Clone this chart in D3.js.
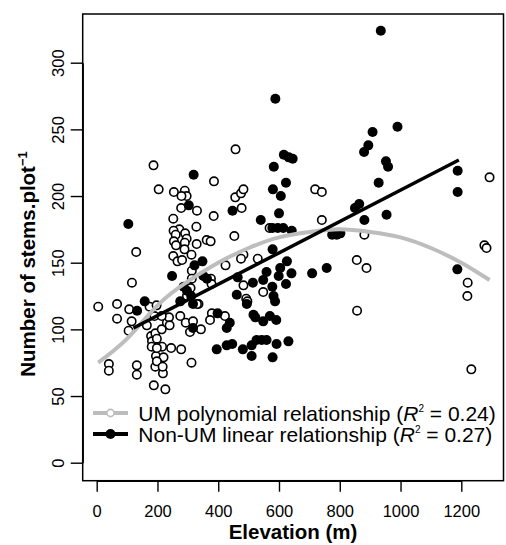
<!DOCTYPE html>
<html>
<head>
<meta charset="utf-8">
<script src="https://cdnjs.cloudflare.com/ajax/libs/d3/7.8.5/d3.min.js"></script>
<style>
body { margin: 0; background: #fff; }
svg { display: block; font-family: "Liberation Sans", Arial, Helvetica, sans-serif; }
.tick line, .domain { stroke: #000; stroke-width: 1.4; }
.tick text { font-size: 16.5px; fill: #000; }
</style>
</head>
<body>
<div class="mainContainer"></div>
<script>
// elevation (m), number of stems per plot
var umPoints = [
	[5,117],[67,119],[67,108],[40,74],[40,69],[132,73],[132,66],[116,135],[130,158],[187,223],
	[204,205],[107,115],[115,106],[105,99],[165,103],[174,117],[197,118],[190,110],[179,95],[182,91],
	[181,87],[193,97],[198,93],[195,80],[193,72],[215,87],[220,79],[188,58],[226,55],[218,67],
	[214,100],[231,105],[238,109],[214,110],[198,76],[198,86],[217,72],[245,86],[278,85],[240,103],
	[275,110],[293,105],[307,98],[312,75],[317,106],[343,100],[335,119],
	[254,203],[290,204],[296,200],[279,200],[278,191],[330,189],[252,183],[272,175],[328,177],
	[253,174],[260,171],[291,172],[296,168],[254,166],[261,163],[290,165],[329,164],[289,160],
	[252,155],[266,151],[281,152],[312,156],[362,167],[375,166],[313,144],[313,138],[309,131],
	[297,125],[330,119],[386,211],[385,185],[376,138],[378,134],[379,112],[373,107],[422,110],
	[424,148],[456,199],[475,202],[483,205],[457,235],[477,191],[453,170],[483,156],[475,153],
	[530,153],[483,133],[492,123],[496,121],[548,128],[569,176],[719,205],[741,203],[741,182],
	[856,152],[888,146],[881,171],[857,114],[1293,214],[1276,163],[1283,161],[1221,135],[1220,125],
	[1233,70]
];
var nonUmPoints = [
	[935,324],[588,273],[990,252],[908,248],[894,238],[880,233],[319,216],[583,222],[616,231],[632,229],
	[645,228],[952,226],[959,222],[1188,219],[623,210],[928,210],[580,205],[606,200],[1188,203],[303,193],
	[864,194],[850,191],[447,189],[600,187],[954,186],[540,182],[881,182],[104,179],[578,176],[596,176],
	[614,176],[642,174],[775,171],[790,171],[802,172],[579,160],[348,151],[626,151],[322,148],[604,146],
	[757,146],[1187,145],[559,143],[709,142],[641,142],[599,140],[248,140],[351,140],[363,138],[464,139],
	[548,137],[623,134],[514,135],[286,132],[297,129],[578,132],[461,126],[582,125],[311,125],[587,121],
	[494,119],[158,121],[275,121],[317,119],[133,114],[398,112],[516,111],[522,109],[570,110],[591,107],
	[548,106],[438,105],[428,101],[317,101],[395,85],[428,88],[446,89],[481,85],[510,88],[526,92],
	[543,92],[559,92],[592,89],[631,91],[510,80],[579,79]
];
// fitted relationships, points
var umCurve = [[5,75],[100,93],[200,118],[300,136],[400,150],[500,161],[600,169],[700,173],[800,175],
	[900,173],[1000,169],[1100,161],[1200,150],[1293,137]];
var nonUmLine = [[121,101],[1192,227]];

var xTicks = [0,200,400,600,800,1000,1200];
var yTicks = [0,50,100,150,200,250,300];
var legendNames = ['UM polynomial relationship', 'Non-UM linear relationship'];
var legendR2 = ['0.24', '0.27'];

var svg = d3.select('.mainContainer').append('svg').attr('width', 506).attr('height', 545);

var box = {left: 82.7, right: 503.5, top: 14, bottom: 480.7};
var x = d3.scaleLinear().domain([0, 1200]).range([96.7, 461.3]);
var y = d3.scaleLinear().domain([0, 300]).range([462.7, 62.7]);

// axes
var xAxis = svg.append('g').attr('transform', 'translate(0,' + box.bottom + ')')
	.call(d3.axisBottom(x).tickValues(xTicks).tickFormat(d3.format('d'))
		.tickSize(11).tickSizeOuter(0).tickPadding(13.6));

var yAxis = svg.append('g').attr('transform', 'translate(' + box.left + ',0)')
	.call(d3.axisLeft(y).tickValues(yTicks).tickFormat(d3.format('d')).tickSize(12).tickSizeOuter(0));
yAxis.selectAll('text').attr('x', 0).attr('dy', 0).attr('text-anchor', 'middle')
	.attr('transform', 'translate(-18.7,0) rotate(-90)');

// box
svg.append('rect').attr('x', box.left).attr('y', box.top)
	.attr('width', box.right - box.left).attr('height', box.bottom - box.top)
	.style('fill', 'none').style('stroke', '#000').style('stroke-width', 1.5);

// points
svg.append('g').selectAll('circle').data(umPoints).enter().append('circle')
	.attr('cx', function(d) { return x(d[0]); }).attr('cy', function(d) { return y(d[1]); })
	.attr('r', 4.2).style('fill', '#fff').style('stroke', '#000').style('stroke-width', 1.6);

svg.append('g').selectAll('circle').data(nonUmPoints).enter().append('circle')
	.attr('cx', function(d) { return x(d[0]); }).attr('cy', function(d) { return y(d[1]); })
	.attr('r', 5).style('fill', '#000');

// fitted lines
var line = d3.line().x(function(d) { return x(d[0]); }).y(function(d) { return y(d[1]); });
svg.append('path').datum(umCurve).attr('d', line.curve(d3.curveNatural))
	.style('fill', 'none').style('stroke', '#bdbdbd').style('stroke-width', 4);
svg.append('path').datum(nonUmLine).attr('d', line.curve(d3.curveLinear))
	.style('fill', 'none').style('stroke', '#000').style('stroke-width', 3.5);

// axis titles
svg.append('text').attr('x', 293).attr('y', 539).attr('text-anchor', 'middle')
	.style('font-size', '20.5px').style('font-weight', 'bold').text('Elevation (m)');

var yTitle = svg.append('text').attr('transform', 'translate(35,264) rotate(-90)')
	.attr('text-anchor', 'middle').style('font-size', '20.5px').style('font-weight', 'bold');
yTitle.append('tspan').text('Number of stems.plot');
yTitle.append('tspan').attr('dy', -8).style('font-size', '13px').text('\u22121');

// legend
var legendY = [413, 434];
var legend = svg.append('g');
legendNames.forEach(function(name, i) {
	var row = legend.append('g').attr('transform', 'translate(0,' + legendY[i] + ')');
	row.append('line').attr('x1', 93).attr('x2', 128).attr('y1', 0).attr('y2', 0)
		.style('stroke', i == 0 ? '#bdbdbd' : '#000').style('stroke-width', 4);
	if (i == 0) {
		row.append('circle').attr('cx', 110.5).attr('cy', 0).attr('r', 3.6)
			.style('fill', '#fff').style('stroke', '#bdbdbd').style('stroke-width', 1.6);
	} else {
		row.append('circle').attr('cx', 110.5).attr('cy', 0).attr('r', 5).style('fill', '#000');
	}
	var t = row.append('text').attr('x', 138.3).attr('y', 7.5).style('font-size', '21px');
	t.append('tspan').text(name + ' (');
	t.append('tspan').style('font-style', 'italic').text('R');
	t.append('tspan').attr('dy', -9).style('font-size', '10px').text('2');
	t.append('tspan').attr('dy', 9).text(' = ' + legendR2[i] + ')');
});
</script>
</body>
</html>
